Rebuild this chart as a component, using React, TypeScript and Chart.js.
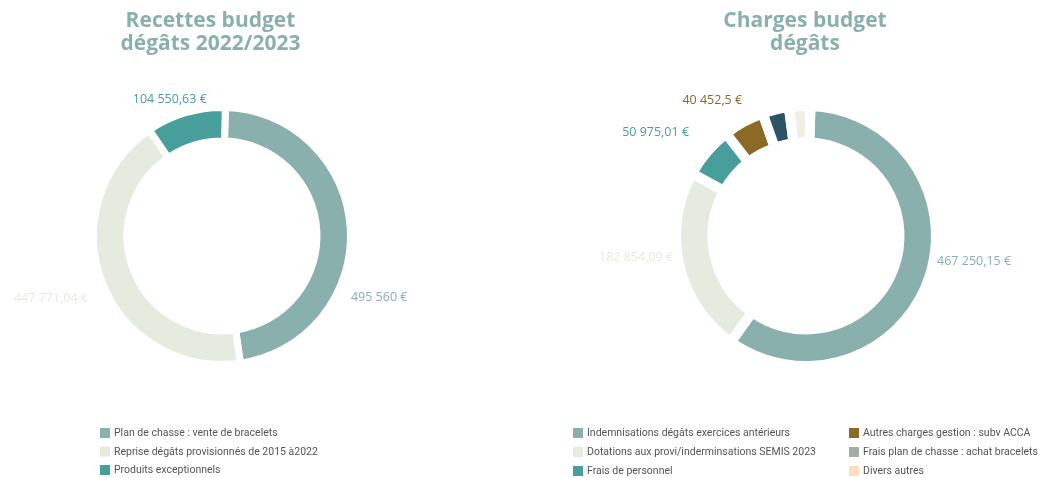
import React, { useEffect, useRef } from "react";
import { Chart, registerables } from "chart.js";

Chart.register(...registerables);

// ---------- DATA ----------
const recettesTitle = ["Recettes budget", "dégâts 2022/2023"];
const recettesLabels = [
  "Plan de chasse : vente de bracelets",
  "Reprise dégâts provisionnés de 2015 à2022",
  "Produits exceptionnels",
];
const recettesValues = [495560, 447771.04, 104550.63];

const chargesTitle = ["Charges budget", "dégâts"];
const chargesLabels = [
  "Indemnisations dégâts exercices antérieurs",
  "Dotations aux provi/inderminsations SEMIS 2023",
  "Frais de personnel",
  "Autres charges gestion : subv ACCA",
  "Frais plan de chasse : achat bracelets",
  "Divers autres",
];
const chargesValues = [467250.15, 182854.09, 50975.01, 40452.5, 26000, 21000];
const chargesShowValue = [true, true, true, true, false, false];

// ---------- STYLE ----------
const recettesColors = ["#8AB0AD", "#E6EBE0", "#489E9A"];
const recettesLegendColors = ["#8AB0AD", "#E6EBE0", "#489E9A"];
const chargesColors = ["#8AB0AD", "#E6EBE0", "#489E9A", "#8A6A24", "#2F5366", "#F1EFE5"];
const chargesLegendColors = ["#8AB0AD", "#E6EBE0", "#489E9A", "#8A6A24", "#A3ADA5", "#FCDDBE"];

const fmt = (v: number) =>
  new Intl.NumberFormat("fr-FR", { maximumFractionDigits: 2 })
    .format(v)
    .replace(/[\u202f\u00a0]/g, " ") + " €";

type OverlayCfg = {
  title: string[];
  titleX: number;
  titleY: number;
  visibleRadius: number;
  labelTweaks: ([number, number] | null)[];
  legendColors: string[];
  legendCols: number[];
  legendRowY: number;
  legendRowStep: number;
  perCol: number;
};

function makeOverlay(cfg: OverlayCfg) {
  return {
    id: "overlay",
    afterDraw(chart: any) {
      const ctx = chart.ctx as CanvasRenderingContext2D;
      ctx.save();
      // title
      ctx.fillStyle = "#8AB0AD";
      ctx.font = "bold 21px 'Open Sans'";
      ctx.textAlign = "center";
      ctx.textBaseline = "middle";
      cfg.title.forEach((line, i) => ctx.fillText(line, cfg.titleX, cfg.titleY + i * 23));

      // value labels
      const meta = chart.getDatasetMeta(0);
      const ds = chart.data.datasets[0];
      ctx.font = "12.5px 'Open Sans'";
      meta.data.forEach((arc: any, i: number) => {
        const tw = cfg.labelTweaks[i];
        if (!tw) return;
        const p = arc.getProps(["x", "y", "startAngle", "endAngle"], true);
        const mid = (p.startAngle + p.endAngle) / 2 + (tw[0] * Math.PI) / 180;
        const r = cfg.visibleRadius + tw[1];
        const c = Math.cos(mid);
        const s = Math.sin(mid);
        ctx.textAlign = c > 0.4 ? "left" : c < -0.4 ? "right" : "center";
        ctx.fillStyle = ds.backgroundColor[i];
        ctx.fillText(fmt(ds.data[i]), p.x + c * r, p.y + s * r);
      });

      // legend (columns)
      ctx.font = "10.5px Roboto";
      ctx.textAlign = "left";
      chart.data.labels.forEach((lab: string, i: number) => {
        const col = Math.floor(i / cfg.perCol);
        const row = i % cfg.perCol;
        const x = cfg.legendCols[col];
        const y = cfg.legendRowY + row * cfg.legendRowStep;
        ctx.fillStyle = cfg.legendColors[i];
        ctx.fillRect(x, y - 5, 10, 10);
        ctx.fillStyle = "#555555";
        ctx.fillText(lab, x + 14, y + 0.5);
      });
      ctx.restore();
    },
  };
}

function Doughnut(props: {
  labels: string[];
  values: number[];
  colors: string[];
  border: number;
  rotation: number;
  padding: { left: number; right: number; top: number; bottom: number };
  overlay: OverlayCfg;
  left: number;
}) {
  const ref = useRef<HTMLCanvasElement | null>(null);
  useEffect(() => {
    if (!ref.current) return;
    const visR = props.overlay.visibleRadius;
    const inner = 98.5;
    const R = visR + props.border / 2;
    const r = inner - props.border / 2;
    const chart = new Chart(ref.current, {
      type: "doughnut",
      data: {
        labels: props.labels,
        datasets: [
          {
            data: props.values,
            backgroundColor: props.colors,
            borderColor: "#ffffff",
            borderWidth: props.border,
            borderJoinStyle: "miter",
            hoverOffset: 0,
          } as any,
        ],
      },
      options: {
        responsive: true,
        maintainAspectRatio: false,
        animation: false,
        radius: R,
        cutout: ((r / R) * 100).toFixed(2) + "%",
        rotation: props.rotation,
        layout: { padding: props.padding },
        plugins: {
          legend: { display: false },
          title: { display: false },
          tooltip: { enabled: false },
        },
        events: [],
      } as any,
      plugins: [makeOverlay(props.overlay)],
    });
    return () => chart.destroy();
  }, []);
  return (
    <div style={{ position: "absolute", left: props.left, top: 0, width: 519, height: 478 }}>
      <canvas ref={ref} />
    </div>
  );
}

export default function App() {
  return (
    <div style={{ position: "absolute", left: 0, top: 0, width: 1038, height: 478, background: "#fff" }}>
      <Doughnut
        left={0}
        labels={recettesLabels}
        values={recettesValues}
        colors={recettesColors}
        border={7}
        rotation={1.5}
        padding={{ left: 0, right: 75, top: 80, bottom: 86 }}
        overlay={{
          title: recettesTitle,
          titleX: 210.5,
          titleY: 21,
          visibleRadius: 125,
          labelTweaks: [
            [29, 18],
            [-3.8, 23],
            [-4.5, 21],
          ],
          legendColors: recettesLegendColors,
          legendCols: [100],
          legendRowY: 433,
          legendRowStep: 18.5,
          perCol: 3,
        }}
      />
      <Doughnut
        left={519}
        labels={chargesLabels}
        values={chargesValues}
        colors={chargesColors}
        border={10}
        rotation={2}
        padding={{ left: 80, right: 25, top: 80, bottom: 86 }}
        overlay={{
          title: chargesTitle,
          titleX: 286,
          titleY: 21,
          visibleRadius: 125,
          labelTweaks: chargesShowValue.map((s, i) =>
            s ? ([[-7.5, 8.6], [3.9, 9.6], [1.2, 31.5], [3.5, 25]][i] as [number, number]) : null
          ),
          legendColors: chargesLegendColors,
          legendCols: [54, 330],
          legendRowY: 433,
          legendRowStep: 19,
          perCol: 3,
        }}
      />
    </div>
  );
}
